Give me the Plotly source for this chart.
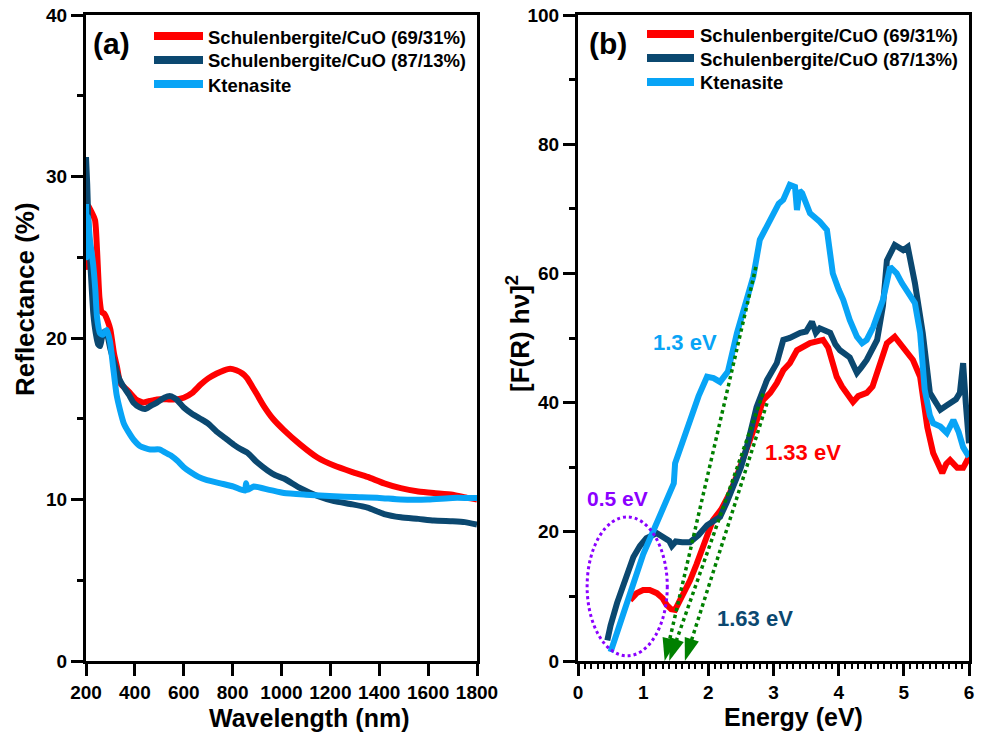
import plotly.graph_objects as go

# ---------------- colours ----------------
RED = "#FF0000"
NAVY = "#0B4870"
SKY = "#08A4F6"
GREEN = "#008000"
PURPLE = "#8B00FF"

# ---------------- (a) reflectance vs wavelength ----------------
wl_red = [200, 203, 208, 216, 237, 245, 255, 264, 275, 290, 300, 315, 327, 340, 360, 380, 405,
          434, 460, 490, 530, 570, 600, 635, 668, 700, 735, 765, 790, 815, 840, 860, 880, 900,
          927, 965, 1010, 1077, 1147, 1215, 1290, 1352, 1420, 1488, 1560, 1623, 1700, 1760, 1800]
refl_red = [28.5, 24.4, 28.2, 28.0, 27.3, 25.5, 22.5, 21.6, 21.5, 21.0, 20.5, 19.0, 18.2, 17.2,
            16.9, 16.6, 16.2, 16.0, 16.1, 16.2, 16.2, 16.2, 16.3, 16.6, 17.1, 17.5, 17.8, 18.0,
            18.1, 18.0, 17.8, 17.5, 17.0, 16.5, 15.8, 15.0, 14.3, 13.4, 12.6, 12.1, 11.7, 11.4,
            11.0, 10.7, 10.5, 10.4, 10.3, 10.1, 10.0]

wl_navy = [200, 205, 210, 220, 230, 240, 250, 258, 265, 275, 285, 300, 319, 335, 353, 375, 394,
           420, 442, 465, 490, 520, 545, 570, 600, 635, 668, 700, 735, 770, 804, 835, 860, 900,
           943, 975, 1010, 1077, 1150, 1215, 1290, 1352, 1420, 1488, 1560, 1623, 1700, 1750, 1800]
refl_navy = [31.2, 29.5, 27.0, 24.0, 21.5, 20.3, 19.6, 19.5, 20.0, 20.4, 20.3, 19.3, 18.3, 17.5,
             17.0, 16.5, 16.0, 15.7, 15.6, 15.8, 16.0, 16.3, 16.4, 16.2, 15.7, 15.3, 15.0, 14.7,
             14.2, 13.8, 13.4, 13.1, 12.9, 12.3, 11.8, 11.5, 11.3, 10.7, 10.2, 9.9, 9.7, 9.5,
             9.1, 8.9, 8.8, 8.7, 8.65, 8.6, 8.45]

wl_kten = [200, 203, 208, 216, 229, 238, 245, 257, 268, 285, 298, 311, 325, 340, 355, 373, 395,
           422, 463, 500, 525, 550, 574, 600, 627, 660, 695, 750, 804, 850, 855, 862, 886, 950,
           1010, 1100, 1215, 1300, 1400, 1488, 1600, 1700, 1762, 1800]
refl_kten = [28.3, 25.0, 27.5, 26.1, 24.6, 23.0, 21.3, 20.3, 20.2, 20.5, 19.8, 18.2, 16.5, 15.5,
             14.7, 14.2, 13.7, 13.3, 13.1, 13.1, 12.9, 12.7, 12.4, 12.0, 11.7, 11.4, 11.2, 11.0,
             10.8, 10.55, 11.0, 10.6, 10.8, 10.6, 10.4, 10.3, 10.2, 10.15, 10.1, 10.0, 10.0,
             10.1, 10.1, 10.1]

# ---------------- (b) Tauc plot ----------------
e_red = [0.8, 0.9, 1.0, 1.1, 1.21, 1.3, 1.36, 1.43, 1.49, 1.6, 1.72, 1.82, 1.92, 2.0, 2.07, 2.2,
         2.33, 2.45, 2.59, 2.72, 2.84, 2.95, 3.05, 3.15, 3.25, 3.36, 3.56, 3.76, 3.84, 3.91, 3.97,
         4.05, 4.13, 4.22, 4.3, 4.43, 4.52, 4.59, 4.66, 4.74, 4.86, 4.95, 5.05, 5.14, 5.25, 5.36,
         5.45, 5.52, 5.59, 5.65, 5.71, 5.82, 5.91, 6.0]
f_red = [9.4, 10.5, 11.0, 11.0, 10.5, 9.7, 8.7, 8.0, 7.9, 10.0, 12.5, 15.0, 17.6, 20.0, 21.8,
         23.5, 26.0, 29.0, 32.7, 36.5, 40.4, 41.5, 43.0, 45.0, 46.1, 48.1, 49.2, 49.7, 48.5, 46.0,
         44.0, 42.5, 41.5, 40.1, 41.0, 41.5, 42.5, 44.6, 47.0, 49.2, 50.2, 49.0, 47.7, 46.6, 44.0,
         36.2, 32.2, 30.5, 29.1, 30.5, 31.1, 29.9, 29.9, 31.6]

e_navy = [0.45, 0.5, 0.6, 0.69, 0.78, 0.85, 0.95, 1.05, 1.21, 1.3, 1.4, 1.44, 1.5, 1.6, 1.72,
          1.85, 1.98, 2.1, 2.18, 2.28, 2.38, 2.5, 2.59, 2.74, 2.9, 3.05, 3.15, 3.25, 3.41, 3.5,
          3.59, 3.65, 3.71, 3.87, 3.95, 4.02, 4.17, 4.28, 4.35, 4.43, 4.59, 4.68, 4.74, 4.86,
          4.99, 5.06, 5.17, 5.29, 5.4, 5.56, 5.65, 5.71, 5.8, 5.86, 5.91, 5.95, 6.0]
f_navy = [3.2, 5.5, 9.0, 11.5, 14.5, 16.1, 17.8, 19.0, 19.8, 19.2, 18.6, 17.8, 18.5, 18.4, 18.4,
          19.5, 21.0, 21.8, 22.3, 24.5, 26.9, 30.0, 33.1, 39.3, 43.5, 46.1, 49.7, 50.0, 50.8,
          51.0, 52.5, 50.8, 51.5, 50.8, 49.0, 48.1, 47.0, 44.6, 45.5, 46.6, 49.7, 55.0, 62.0,
          64.4, 63.6, 64.1, 58.5, 50.8, 41.5, 38.9, 39.5, 39.9, 40.5, 41.5, 46.1, 40.0, 33.7]

e_kten = [0.5, 0.6, 0.7, 0.8, 0.9, 1.0, 1.15, 1.3, 1.44, 1.47, 1.49, 1.6, 1.72, 1.85, 1.98, 2.08,
          2.18, 2.3, 2.44, 2.55, 2.69, 2.79, 2.9, 2.99, 3.08, 3.15, 3.25, 3.33, 3.36, 3.4, 3.44,
          3.56, 3.71, 3.82, 3.91, 4.0, 4.07, 4.17, 4.28, 4.36, 4.43, 4.53, 4.68, 4.79, 4.89,
          4.97, 5.05, 5.17, 5.25, 5.32, 5.4, 5.45, 5.56, 5.66, 5.76, 5.84, 5.91, 6.0]
f_kten = [1.4, 4.5, 7.5, 10.5, 13.5, 16.5, 20.0, 23.5, 27.2, 27.5, 30.6, 34.0, 37.3, 41.0, 44.0,
          43.8, 43.2, 44.8, 50.8, 55.0, 59.5, 65.2, 67.5, 69.3, 70.8, 71.4, 73.7, 73.4, 69.8,
          72.8, 72.4, 69.3, 68.0, 66.7, 60.0, 57.5, 55.9, 52.8, 50.2, 49.2, 49.7, 51.7, 55.9,
          61.0, 60.0, 58.5, 57.4, 55.4, 50.8, 42.0, 38.0, 36.8, 36.3, 35.3, 37.3, 35.5, 33.1, 31.6]

# tangent extrapolations: (E_top, F_top) -> (E_gap, 0)
tangents = [
    (2.73, 61.0, 1.33),
    (2.84, 41.4, 1.40),
    (2.90, 39.9, 1.64),
]

labels = ["Schulenbergite/CuO (69/31%)", "Schulenbergite/CuO (87/13%)", "Ktenasite"]
colors = [RED, NAVY, SKY]

W, H = 983, 735
FONT = "Liberation Sans"


def px(x):
    return x / W


def py(y):
    return 1 - y / H


fig = go.Figure()

LW = 6
for xs, ys, c, name in [(wl_red, refl_red, RED, labels[0]),
                        (wl_navy, refl_navy, NAVY, labels[1]),
                        (wl_kten, refl_kten, SKY, labels[2])]:
    fig.add_trace(go.Scatter(x=xs, y=ys, mode="lines", name=name, showlegend=False,
                             line=dict(color=c, width=LW, shape="spline", smoothing=0.5),
                             xaxis="x", yaxis="y"))

for xs, ys, c, name in [(e_red, f_red, RED, labels[0]),
                        (e_navy, f_navy, NAVY, labels[1]),
                        (e_kten, f_kten, SKY, labels[2])]:
    fig.add_trace(go.Scatter(x=xs, y=ys, mode="lines", name=name, showlegend=False,
                             line=dict(color=c, width=LW), xaxis="x2", yaxis="y2"))

for e_top, f_top, e_gap in tangents:
    fig.add_trace(go.Scatter(
        x=[e_top, e_gap], y=[f_top, 0.0], mode="lines+markers", showlegend=False,
        line=dict(color=GREEN, width=3.5, dash="dot"),
        marker=dict(symbol="arrow", size=24, color=GREEN, opacity=[0, 1],
                    angleref="previous", line=dict(width=0)),
        xaxis="x2", yaxis="y2", cliponaxis=False))

tick_font = dict(family=FONT, size=19, color="black", weight="bold")
common_axis = dict(showline=True, linewidth=3, linecolor="black", mirror=True,
                   ticks="outside", ticklen=12, tickwidth=3, tickcolor="black",
                   showgrid=False, zeroline=False, tickfont=tick_font, automargin=False)

ydom = [py(661), py(15)]
fig.update_layout(
    template="none",
    width=W, height=H, autosize=False,
    margin=dict(l=0, r=0, t=0, b=0, pad=0),
    plot_bgcolor="white", paper_bgcolor="white",
    showlegend=False,
    xaxis=dict(domain=[px(86), px(477)], range=[200, 1800], dtick=200, tick0=200,
               anchor="y", **common_axis),
    yaxis=dict(domain=ydom, range=[0, 40], dtick=10, anchor="x",
               minor=dict(dtick=5, ticklen=6, tickwidth=3, ticks="outside", tickcolor="black"),
               **common_axis),
    xaxis2=dict(domain=[px(578), px(969)], range=[0, 6], dtick=1, anchor="y2",
                minor=dict(dtick=0.1, ticklen=5, tickwidth=2, ticks="outside", tickcolor="black"),
                **common_axis),
    yaxis2=dict(domain=ydom, range=[0, 100], dtick=20, anchor="x2",
                minor=dict(dtick=10, ticklen=6, tickwidth=3, ticks="outside", tickcolor="black"),
                **common_axis),
)

# dotted ellipse around the low-energy feature
fig.add_shape(type="circle", xref="x2", yref="y2", x0=0.14, x1=1.37, y0=0.8, y1=22.3,
              line=dict(color=PURPLE, width=3, dash="dot"))

annotations = []


def text(x, y, s, size, color="black", xanchor="center", angle=0):
    annotations.append(dict(x=px(x), y=py(y), xref="paper", yref="paper", text=s,
                            showarrow=False, xanchor=xanchor, yanchor="middle",
                            textangle=angle,
                            font=dict(family=FONT, size=size, color=color, weight="bold")))


# legends
for (x0, x1, xt, rows) in [(154, 203, 206, [36, 60, 84]), (647, 694, 698, [34, 58, 82])]:
    for lab, c, yr in zip(labels, colors, rows):
        fig.add_shape(type="line", xref="paper", yref="paper", x0=px(x0), x1=px(x1),
                      y0=py(yr), y1=py(yr), line=dict(color=c, width=8))
        text(xt, yr + 1, lab, 18.5, xanchor="left")

# panel tags
text(111, 43, "(a)", 30)
text(608, 43, "(b)", 30)

# axis titles
text(309, 718, "Wavelength (nm)", 25)
text(793, 717, "Energy (eV)", 25)
text(25, 299, "Reflectance (%)", 26, angle=-90)
text(518, 334, "[F(R) hν]<sup>2</sup>", 26, angle=-90)

# band-gap labels
text(617, 498, "0.5 eV", 21, color=PURPLE)
text(685, 342, "1.3 eV", 22, color=SKY)
text(803, 453, "1.33 eV", 22, color=RED)
text(755, 618, "1.63 eV", 22, color=NAVY)

fig.update_layout(annotations=annotations)

fig.write_html("out.html")
